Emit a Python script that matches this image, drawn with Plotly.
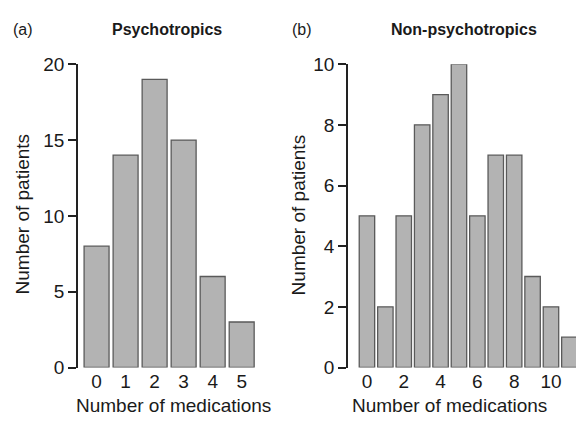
import plotly.graph_objects as go

# Data
psy_categories = [0, 1, 2, 3, 4, 5]
psy_counts = [8, 14, 19, 15, 6, 3]
nonpsy_categories = [0, 1, 2, 3, 4, 5, 6, 7, 8, 9, 10, 11]
nonpsy_counts = [5, 2, 5, 8, 9, 10, 5, 7, 7, 3, 2, 1]
psy_yticks = [0, 5, 10, 15, 20]
nonpsy_yticks = [0, 2, 4, 6, 8, 10]
nonpsy_xticks = [0, 2, 4, 6, 8, 10]

W, H = 576, 427
FONT = "Liberation Sans, Arial, Helvetica, sans-serif"
TXT = "#1a1a1a"
FILL = "#b3b3b3"
EDGE = "#5a5a5a"

def px(x):
    return x / W

def py(y):
    return 1 - y / H

fig = go.Figure()
fig.add_trace(go.Bar(x=psy_categories, y=psy_counts, width=0.86,
                     marker=dict(color=FILL, line=dict(color=EDGE, width=1.3)),
                     xaxis="x", yaxis="y", showlegend=False, hoverinfo="skip"))
fig.add_trace(go.Bar(x=nonpsy_categories, y=nonpsy_counts, width=0.84,
                     marker=dict(color=FILL, line=dict(color=EDGE, width=1.3)),
                     xaxis="x2", yaxis="y2", showlegend=False, hoverinfo="skip"))

ydom = [py(376), py(57)]
common_y = dict(showline=True, linecolor="#222", linewidth=1.5, ticks="outside",
                ticklen=8, tickwidth=1.5, tickcolor="#222", showgrid=False,
                zeroline=False, tickfont=dict(family=FONT, size=19, color=TXT))
common_x = dict(showline=False, showgrid=False, zeroline=False, ticks="",
                tickfont=dict(family=FONT, size=19, color=TXT))

fig.update_layout(
    width=W, height=H, margin=dict(l=0, r=0, t=0, b=0),
    plot_bgcolor="white", paper_bgcolor="white",
    xaxis=dict(domain=[px(78), px(262)], range=[-0.64, 5.70],
               tickvals=psy_categories, anchor="y", **common_x),
    yaxis=dict(domain=ydom, range=[0, 20], tickvals=psy_yticks, anchor="x", **common_y),
    xaxis2=dict(domain=[px(348), 1.0], range=[-1.03, 11.36],
                tickvals=nonpsy_xticks, anchor="y2", **common_x),
    yaxis2=dict(domain=ydom, range=[0, 10], tickvals=nonpsy_yticks, anchor="x2", **common_y),
)

def ann(text, x, y, size=19, bold=False, angle=0, xanchor="center"):
    fig.add_annotation(text=f"<b>{text}</b>" if bold else text,
                       x=px(x), y=py(y), xref="paper", yref="paper",
                       xanchor=xanchor, yanchor="middle", showarrow=False,
                       textangle=angle, font=dict(family=FONT, size=size, color=TXT))

ann("(a)", 11, 20, size=16, xanchor="left")
ann("(b)", 290, 20, size=16, xanchor="left")
ann("Psychotropics", 167, 21, size=16, bold=True)
ann("Non-psychotropics", 464, 21, size=16, bold=True)
ann("Number of medications", 173, 416, size=19)
ann("Number of medications", 449, 416, size=19)
ann("Number of patients", 22, 215, angle=-90)
ann("Number of patients", 298, 216, angle=-90)

fig.write_html("out.html", config={"displayModeBar": False},
               post_script="document.body.style.margin='0';document.body.style.overflow='hidden';")
